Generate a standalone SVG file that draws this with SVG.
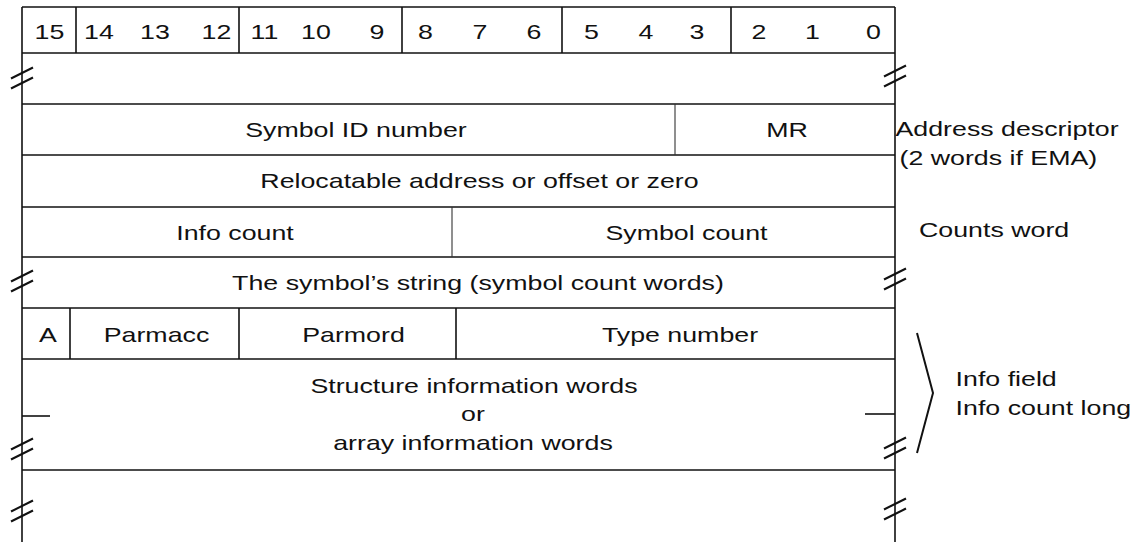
<svg xmlns="http://www.w3.org/2000/svg" xmlns:xlink="http://www.w3.org/1999/xlink" width="1148" height="542" viewBox="0 0 1148 542">
<style>
.ln{stroke:#111;stroke-width:1.6;fill:none}
.thin{stroke:#333;stroke-width:1.1;fill:none}
.bk{stroke:#111;stroke-width:2;fill:none;stroke-linecap:butt}
.t text{font-family:"Liberation Sans",Arial,Helvetica,sans-serif;font-size:21px;fill:#111}
.c{text-anchor:middle}
</style>
<defs>
<g id="brk">
<line class="bk" x1="-11" y1="0.5" x2="11" y2="-10.5"/>
<line class="bk" x1="-11" y1="10.5" x2="11" y2="-0.5"/>
</g>
</defs>
<rect width="1148" height="542" fill="#fff"/>

<g id="frame">
<line class="ln" x1="22" y1="7" x2="22" y2="542"/>
<line class="ln" x1="895" y1="7" x2="895" y2="542"/>
<line class="ln" x1="22" y1="7" x2="895" y2="7"/>
<line class="ln" x1="22" y1="53" x2="895" y2="53"/>
<line class="ln" x1="22" y1="104" x2="895" y2="104"/>
<line class="ln" x1="22" y1="155" x2="895" y2="155"/>
<line class="ln" x1="22" y1="207" x2="895" y2="207"/>
<line class="ln" x1="22" y1="257" x2="895" y2="257"/>
<line class="ln" x1="22" y1="308" x2="895" y2="308"/>
<line class="ln" x1="22" y1="359" x2="895" y2="359"/>
<line class="ln" x1="22" y1="470" x2="895" y2="470"/>
</g>

<g id="breaks">
<use xlink:href="#brk" x="22" y="78"/>
<use xlink:href="#brk" x="895" y="76"/>
<use xlink:href="#brk" x="22" y="281"/>
<use xlink:href="#brk" x="895" y="279"/>
<use xlink:href="#brk" x="22" y="449"/>
<use xlink:href="#brk" x="895" y="448"/>
<use xlink:href="#brk" x="22" y="511"/>
<use xlink:href="#brk" x="895" y="509"/>
<line class="ln" x1="22" y1="416" x2="50" y2="416"/>
<line class="ln" x1="865" y1="414" x2="895" y2="414"/>
</g>

<g id="bits">
<line class="ln" x1="76" y1="7" x2="76" y2="53"/>
<line class="ln" x1="239" y1="7" x2="239" y2="53"/>
<line class="ln" x1="402" y1="7" x2="402" y2="53"/>
<line class="ln" x1="562" y1="7" x2="562" y2="53"/>
<line class="ln" x1="731" y1="7" x2="731" y2="53"/>
<g class="t c" transform="scale(1.275 1)">
<text x="38.82" y="39">15</text>
<text x="77.65" y="39">14</text>
<text x="121.57" y="39">13</text>
<text x="169.80" y="39">12</text>
<text x="207.45" y="39">11</text>
<text x="247.84" y="39">10</text>
<text x="295.69" y="39">9</text>
<text x="333.73" y="39">8</text>
<text x="376.47" y="39">7</text>
<text x="418.82" y="39">6</text>
<text x="463.92" y="39">5</text>
<text x="506.67" y="39">4</text>
<text x="546.67" y="39">3</text>
<text x="595.29" y="39">2</text>
<text x="637.25" y="39">1</text>
<text x="685.10" y="39">0</text>
</g>
</g>

<g id="symbol-id">
<line class="thin" x1="675" y1="104" x2="675" y2="155"/>
<g class="t c" transform="scale(1.275 1)">
<text x="279.22" y="137">Symbol ID number</text>
<text x="617.25" y="137">MR</text>
</g>
</g>

<g id="reloc">
<g class="t c" transform="scale(1.275 1)">
<text x="376.08" y="188">Relocatable address or offset or zero</text>
</g>
</g>

<g id="counts">
<line class="thin" x1="452" y1="207" x2="452" y2="257"/>
<g class="t c" transform="scale(1.275 1)">
<text x="184.31" y="240">Info count</text>
<text x="538.43" y="240">Symbol count</text>
</g>
</g>

<g id="string">
<g class="t c" transform="scale(1.275 1)">
<text x="374.90" y="290">The symbol’s string (symbol count words)</text>
</g>
</g>

<g id="info-head">
<line class="ln" x1="70" y1="308" x2="70" y2="359"/>
<line class="ln" x1="239" y1="308" x2="239" y2="359"/>
<line class="ln" x1="456" y1="308" x2="456" y2="359"/>
<g class="t c" transform="scale(1.275 1)">
<text x="37.65" y="342">A</text>
<text x="122.75" y="342">Parmacc</text>
<text x="277.25" y="342">Parmord</text>
<text x="533.33" y="342">Type number</text>
</g>
</g>

<g id="info-words">
<g class="t c" transform="scale(1.275 1)">
<text x="371.76" y="393">Structure information words</text>
<text x="370.98" y="421">or</text>
<text x="370.98" y="450">array information words</text>
</g>
</g>

<g id="notes">
<polyline class="bk" points="917,333 933,393 917,453"/>
<g class="t" transform="scale(1.275 1)">
<text x="702.35" y="136">Address descriptor</text>
<text x="705.5" y="165">(2 words if EMA)</text>
<text x="720.78" y="237">Counts word</text>
<text x="749.5" y="386">Info field</text>
<text x="749.5" y="415">Info count long</text>
</g>
</g>
</svg>
